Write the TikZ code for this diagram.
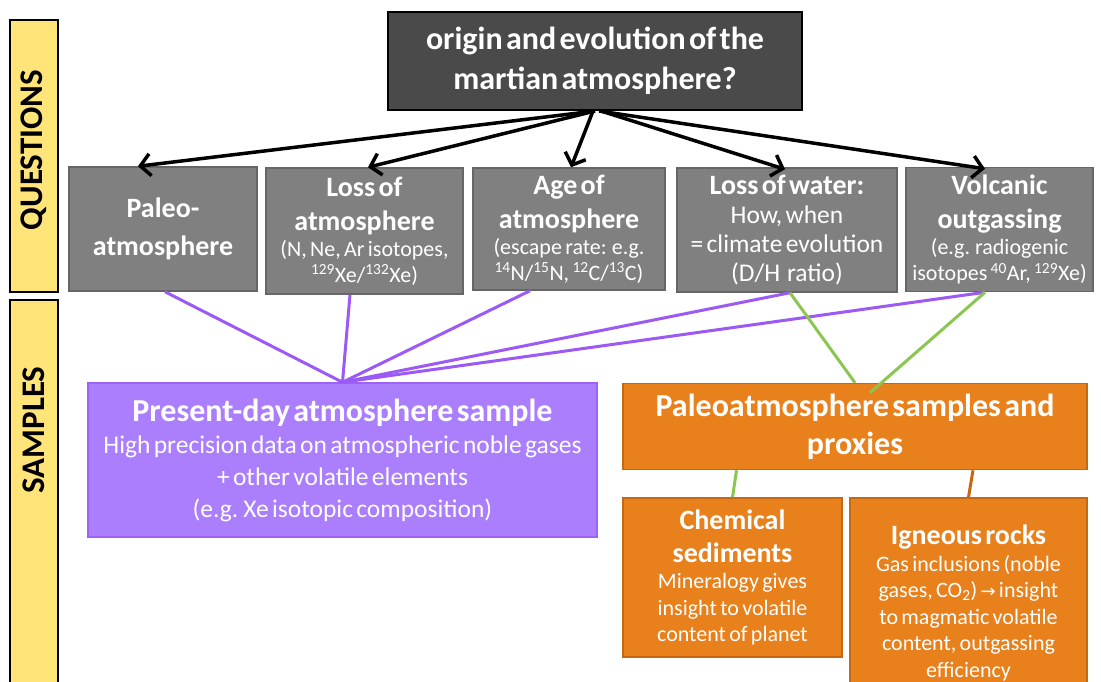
\documentclass[tikz,border=0pt]{standalone}
\usepackage{fontspec}
\setmainfont{Carlito}
\newfontfamily\arrowfont{DejaVu Sans}
\usetikzlibrary{arrows.meta}
\definecolor{sideyellow}{RGB}{255,228,122}
\definecolor{topgray}{RGB}{74,74,74}
\definecolor{qgray}{RGB}{128,128,128}
\definecolor{qedge}{RGB}{102,102,102}
\definecolor{purplefill}{RGB}{170,126,252}
\definecolor{purpleedge}{RGB}{158,98,246}
\definecolor{purplelink}{RGB}{155,90,245}
\definecolor{orangefill}{RGB}{232,128,28}
\definecolor{orangeedge}{RGB}{196,104,20}
\definecolor{greenlink}{RGB}{140,198,82}
\newcommand{\bigtitle}{\fontsize{32}{38}\selectfont\bfseries}
\newcommand{\qtitle}{\fontsize{28}{34}\selectfont\bfseries}
\newcommand{\qsmall}{\fontsize{22}{26}\selectfont\mdseries}
\newcommand{\wsmall}{\fontsize{25.5}{29}\selectfont\mdseries}
\newcommand{\psmall}{\fontsize{25.5}{32}\selectfont\mdseries}
\newcommand{\otitle}{\fontsize{28}{33}\selectfont\bfseries}
\newcommand{\osmall}{\fontsize{22}{26.5}\selectfont\mdseries}
\tikzset{
  box/.style={draw,line width=1.5pt,text=white,align=center,inner sep=2pt},
  qbox/.style={box,draw=qedge,fill=qgray,minimum height=124pt},
  sidebar/.style={draw=black,fill=sideyellow,line width=2pt},
  sidetext/.style={rotate=90,font=\fontsize{33}{33}\selectfont\bfseries},
  arrowline/.style={->,line width=3.5pt,black},
  purpleline/.style={line width=3pt,purplelink},
  greenline/.style={line width=3pt,greenlink},
  orangeline/.style={line width=3pt,orangeedge}
}
\begin{document}
\begin{tikzpicture}[x=1pt,y=-1pt,>={Straight Barb[length=10pt,width=22pt]}]
\useasboundingbox (0,0) rectangle (1101,681);
% side labels
\draw[sidebar] (10,20) rectangle (58,292);
\draw[sidebar] (10,300) rectangle (58,700);
\node[sidetext] (qlabel) at (34,150) {QUESTIONS};
\node[sidetext] (slabel) at (34,430) {SAMPLES};
% questions
\node[box,draw=black,fill=topgray,line width=2pt,minimum width=414,minimum height=98,text width=404] (topq) at (595,61) {\bigtitle origin and evolution of the\\[2pt]martian atmosphere?\par};
\node[qbox,minimum width=188,text width=182] (paleo) at (163,229) {\qtitle Paleo-\\[4pt]atmosphere\par};
\node[qbox,minimum width=197,text width=191,minimum height=126] (lossatm) at (364.5,231) {\qtitle Loss of\\atmosphere\par\qsmall (N, Ne, Ar isotopes,\\\textsuperscript{129}Xe/\textsuperscript{132}Xe)\par};
\node[qbox,minimum width=192,text width=186,minimum height=122] (age) at (569,229) {\qtitle Age of\\atmosphere\par\qsmall (escape rate: e.g.\\\textsuperscript{14}N/\textsuperscript{15}N, \textsuperscript{12}C/\textsuperscript{13}C)\par};
\node[qbox,minimum width=220,text width=214] (water) at (787,230) {\qtitle Loss of water:\par\wsmall How, when\\= climate evolution\\(D/H\ \ ratio)\par};
\node[qbox,minimum width=187,text width=183] (volc) at (999.5,229.5) {\qtitle Volcanic\\outgassing\par\qsmall (e.g. radiogenic\\isotopes \textsuperscript{40}Ar, \textsuperscript{129}Xe)\par};
% samples
\node[box,draw=purpleedge,fill=purplefill,minimum width=509,minimum height=154,text width=500] (presday) at (342.5,460) {\bigtitle Present-day atmosphere sample\par\psmall High precision data on atmospheric noble gases\\+ other volatile elements\\(e.g. Xe isotopic composition)\par};
\node[box,draw=orangeedge,fill=orangefill,minimum width=464,minimum height=86,text width=454] (pasamp) at (855,426.5) {\bigtitle Paleoatmosphere samples and\\proxies\par};
\node[box,draw=orangeedge,fill=orangefill,minimum width=219,minimum height=159,text width=212] (chem) at (732.5,577.5) {\otitle Chemical\\sediments\par\osmall Mineralogy gives\\insight to volatile\\content of planet\par};
\node[box,draw=orangeedge,fill=orangefill,minimum width=237,minimum height=210,text width=230] (igne) at (968.5,603) {\otitle Igneous rocks\par\osmall Gas inclusions (noble\\gases, CO\textsubscript{2}) {\arrowfont\fontsize{18}{18}\selectfont →} insight\\to magmatic volatile\\content, outgassing\\efficiency\par};
% arrows
\draw[arrowline] (topq.south) -- ([xshift=-25]paleo.north);
\draw[arrowline] (topq.south) -- ([xshift=3.5]lossatm.north);
\draw[arrowline] ([xshift=-2]topq.south) -- ([xshift=2]age.north);
\draw[arrowline] ([xshift=6]topq.south) -- ([xshift=-2,yshift=-2]water.north);
\draw[arrowline] ([xshift=4]topq.south) -- ([xshift=-14.5,yshift=-2]volc.north);
% links
\draw[purpleline] ([xshift=2]paleo.south) -- (presday.north);
\draw[purpleline] ([xshift=-14.5]lossatm.south) -- (presday.north);
\draw[purpleline] ([xshift=-39]age.south) -- (presday.north);
\draw[purpleline] ([xshift=3]water.south) -- (presday.north);
\draw[purpleline] ([xshift=-14.5]volc.south) -- (presday.north);
\draw[greenline] ([xshift=3]water.south) -- (pasamp.north);
\draw[greenline] ([xshift=-14.5]volc.south) -- ([xshift=15,yshift=-10]pasamp.north);
\draw[greenline] ([xshift=4]chem.north |- pasamp.south) -- (chem.north);
\draw[orangeline] ([xshift=4.5]igne.north |- pasamp.south) -- (igne.north);
%\draw[ultra thin,cyan](0,0)grid[step=50](1101,681);
\end{tikzpicture}
\end{document}
